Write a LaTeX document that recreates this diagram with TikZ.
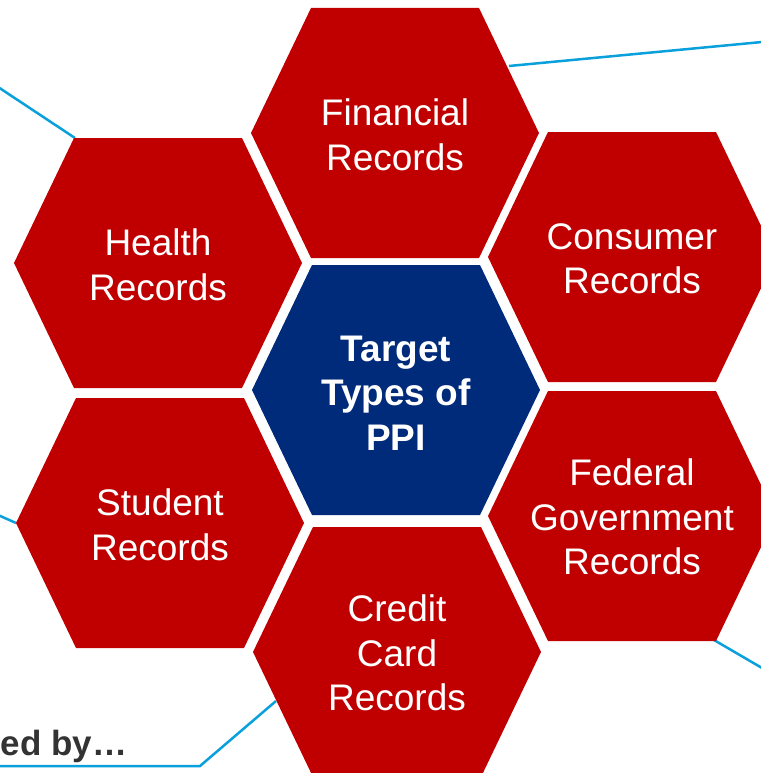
\documentclass[tikz,border=0pt]{standalone}
\usepackage{fontspec}
\setmainfont{Liberation Sans}
\usetikzlibrary{positioning}

\definecolor{hexred}{RGB}{192,0,0}
\definecolor{hexblue}{RGB}{0,42,122}
\definecolor{linkblue}{RGB}{10,160,220}
\definecolor{darktext}{RGB}{51,51,51}

\begin{document}
\begin{tikzpicture}[x = 1pt, y = -1pt,
  hexagon/.style={insert path={(-144,0) -- (-84,-125) -- (84,-125) -- (144,0) -- (84,125) -- (-84,125) -- cycle}},
  celltext/.style={text=white, align=center, font=\fontsize{37}{44.5}\selectfont},
  link/.style={draw=linkblue, line width=2.5pt}]
\useasboundingbox (0,0) rectangle (760,773);
% Connector ends
\coordinate (fin-r) at (509,66);
\coordinate (fin-out) at (762,42);
\coordinate (health-tl) at (75,138);
\coordinate (health-out) at (-2,87);
\coordinate (student-l) at (16,523);
\coordinate (student-out) at (-2,515);
\coordinate (credit-l) at (276,701);
\coordinate (credit-bend) at (200,766);
\coordinate (credit-out) at (-2,766);
\coordinate (federal-br) at (714,640);
\coordinate (federal-out) at (762,668);
% Blue connectors
\draw[link] (fin-r) -- (fin-out);
\draw[link] (health-tl) -- (health-out);
\draw[link] (student-l) -- (student-out);
\draw[link] (credit-l) -- (credit-bend) -- (credit-out);
\draw[link] (federal-br) -- (federal-out);
% Outer hexagons
\fill[hexred, shift={(395,133)}, hexagon];
\fill[hexred, shift={(158,263)}, hexagon];
\fill[hexred, shift={(632,257)}, hexagon];
\fill[hexred, shift={(160,523)}, hexagon];
\fill[hexred, shift={(632,516)}, hexagon];
\fill[hexred, shift={(397,652)}, hexagon];
% Centre hexagon
\fill[hexblue, shift={(396,390)}, hexagon];
% Labels
\node[celltext] (financial) at (395,135) {Financial\\Records};
\node[celltext] (health) at (158,265) {Health\\Records};
\node[celltext] (consumer) at (632,259) {Consumer\\Records};
\node[celltext] (student) at (160,525) {Student\\Records};
\node[celltext] (federal) at (632,517) {Federal\\Government\\Records};
\node[celltext] (credit) at (397,653) {Credit\\Card\\Records};
\node[celltext, font=\fontsize{37}{44.5}\selectfont\bfseries] (target) at (396,393) {Target\\Types of\\PPI};
\node[anchor=base west, inner sep=0pt, text=darktext, font=\fontsize{35}{40}\selectfont\bfseries] (byline) at (0.5,755) {ed by\ldots};
\end{tikzpicture}
\end{document}
